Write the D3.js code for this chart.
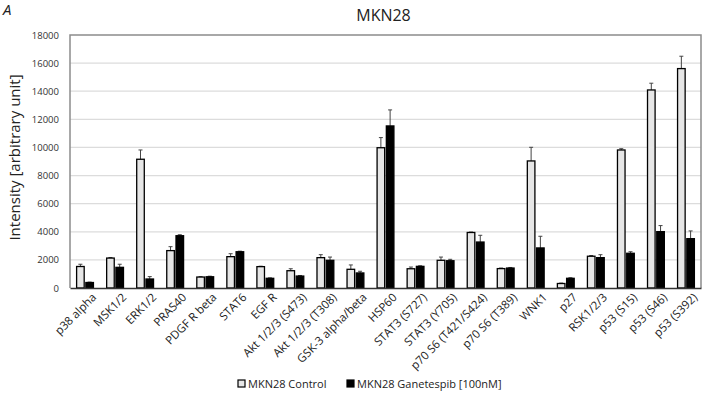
<!DOCTYPE html>
<html>
<head>
<meta charset="utf-8">
<script src="https://cdn.jsdelivr.net/npm/d3@7"></script>
<style>
  body { margin: 0; background: #fff; }
  text { font-family: "Open Sans", Lato, sans-serif; fill: #222; }
</style>
</head>
<body>
<svg id="chart" width="703" height="394"></svg>
<script>
const categories = ["p38 alpha", "MSK1/2", "ERK1/2", "PRAS40", "PDGF R beta", "STAT6", "EGF R",
  "Akt 1/2/3 (S473)", "Akt 1/2/3 (T308)", "GSK-3 alpha/beta", "HSP60", "STAT3 (S727)", "STAT3 (Y705)",
  "p70 S6 (T421/S424)", "p70 S6 (T389)", "WNK1", "p27", "RSK1/2/3", "p53 (S15)", "p53 (S46)", "p53 (S392)"];
const seriesNames = ["MKN28 Control", "MKN28 Ganetespib [100nM]"];
const controlValues = [1530, 2130, 9160, 2660, 780, 2230, 1520, 1230, 2160, 1330, 9980, 1370, 1970, 3950, 1380, 9040, 320, 2260, 9820, 14090, 15610];
const controlErrors = [160, 40, 660, 280, 30, 210, 30, 140, 210, 310, 720, 120, 230, 30, 40, 970, 30, 50, 90, 480, 880];
const treatedValues = [390, 1470, 640, 3720, 800, 2580, 690, 850, 1970, 1070, 11530, 1540, 1940, 3270, 1420, 2850, 690, 2160, 2470, 4010, 3510];
const treatedErrors = [30, 220, 170, 70, 40, 40, 30, 40, 230, 120, 1140, 40, 100, 480, 40, 830, 40, 210, 110, 430, 550];
const yTicks = [0, 2000, 4000, 6000, 8000, 10000, 12000, 14000, 16000, 18000];

const svg = d3.select("#chart"),
    margin = { top: 35, right: 2, bottom: 106, left: 70 },
    width = +svg.attr("width"),
    height = +svg.attr("height"),
    chartWidth = width - margin.left - margin.right,
    chartHeight = height - margin.top - margin.bottom;

const chart = svg.append("g").attr("transform", `translate(${margin.left},${margin.top})`);

const x0 = d3.scaleBand().domain(categories).range([0, chartWidth]);
const x1 = d3.scaleBand().domain(seriesNames).range([x0.bandwidth() * 0.22, x0.bandwidth() * 0.78]).paddingInner(0.18);
const y = d3.scaleLinear().domain([0, 18000]).range([chartHeight, 0]);
const fill = d3.scaleOrdinal().domain(seriesNames).range(["#e6e6e6", "#000000"]);

// gridlines
chart.append("g")
    .selectAll("line")
    .data(yTicks.slice(1, -1))
    .join("line")
    .attr("x1", 0).attr("x2", chartWidth)
    .attr("y1", d => y(d)).attr("y2", d => y(d))
    .attr("stroke", "#dcdcdc").attr("stroke-width", 1.2);

// plot border
chart.append("path")
    .attr("d", `M0,${chartHeight}V0H${chartWidth}V${chartHeight}`)
    .attr("fill", "none").attr("stroke", "#8c8c8c").attr("stroke-width", 1.5);

// y axis labels
const yAxis = chart.append("g")
    .call(d3.axisLeft(y).tickValues(yTicks).tickSize(0).tickPadding(11).tickFormat(d3.format("d")));
yAxis.select(".domain").remove();
yAxis.selectAll("text").style("font-size", "9.5px").style("font-family", "'Open Sans', sans-serif").style("fill", "#333");

// bars
const rows = categories.map((c, i) => ({
    cat: c,
    items: [
        { key: seriesNames[0], value: controlValues[i], err: controlErrors[i] },
        { key: seriesNames[1], value: treatedValues[i], err: treatedErrors[i] }
    ]
}));

const groups = chart.selectAll(".group")
    .data(rows)
    .join("g")
    .attr("class", "group")
    .attr("transform", d => `translate(${x0(d.cat)},0)`);

// error bars (upper only)
groups.selectAll(".err")
    .data(d => d.items)
    .join("g")
    .attr("class", "err")
    .each(function(d) {
        const g = d3.select(this);
        const cx = x1(d.key) + x1.bandwidth() / 2;
        g.append("line")
            .attr("x1", cx).attr("x2", cx)
            .attr("y1", y(d.value)).attr("y2", y(d.value + d.err))
            .attr("stroke", "#444").attr("stroke-width", 1);
        g.append("line")
            .attr("x1", cx - 2).attr("x2", cx + 2)
            .attr("y1", y(d.value + d.err)).attr("y2", y(d.value + d.err))
            .attr("stroke", "#444").attr("stroke-width", 1);
    });

groups.selectAll("rect")
    .data(d => d.items)
    .join("rect")
    .attr("x", d => x1(d.key))
    .attr("y", d => y(d.value))
    .attr("width", x1.bandwidth())
    .attr("height", d => chartHeight - y(d.value))
    .attr("fill", d => fill(d.key))
    .attr("stroke", "#000")
    .attr("stroke-width", 1.3);

// x axis
const xAxis = chart.append("g")
    .attr("transform", `translate(0,${chartHeight})`)
    .call(d3.axisBottom(x0).tickSize(0).tickPadding(6));
xAxis.select(".domain").attr("stroke", "#333").attr("stroke-width", 1.5);
xAxis.selectAll("text")
    .style("font-size", "11.5px")
    .style("font-family", "'Open Sans', sans-serif")
    .style("fill", "#222")
    .attr("text-anchor", "end")
    .attr("dy", "0.35em")
    .attr("transform", "translate(5,3) rotate(-45)");

// title and labels
svg.append("text")
    .attr("x", margin.left + chartWidth / 2 - 2)
    .attr("y", 21)
    .attr("text-anchor", "middle")
    .style("font-size", "16px")
    .text("MKN28");

svg.append("text")
    .attr("x", 3)
    .attr("y", 15)
    .style("font-size", "15px")
    .style("font-style", "italic")
    .text("A");

svg.append("text")
    .attr("transform", "rotate(-90)")
    .attr("x", -(margin.top + chartHeight / 2) + 4)
    .attr("y", 20)
    .attr("text-anchor", "middle")
    .style("font-size", "15px")
    .text("Intensity [arbitrary unit]");

// legend
const legend = svg.append("g").attr("transform", "translate(238,380)");
const legendX = [0, 109];
seriesNames.forEach((s, i) => {
    const g = legend.append("g").attr("transform", `translate(${legendX[i]},0)`);
    g.append("rect")
        .attr("width", 7).attr("height", 7)
        .attr("fill", fill(s))
        .attr("stroke", "#000").attr("stroke-width", 1.2);
    g.append("text")
        .attr("x", 10).attr("y", 8)
        .style("font-size", "11px")
        .text(s);
});
</script>
</body>
</html>
